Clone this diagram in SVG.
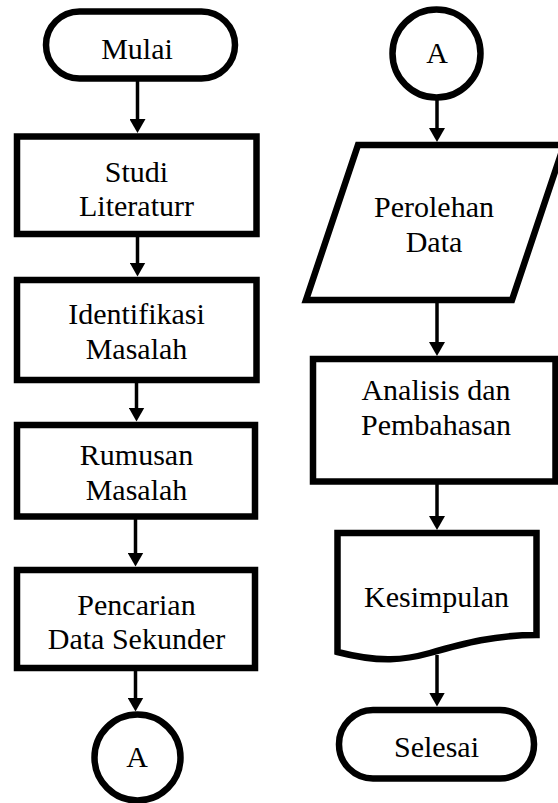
<svg xmlns="http://www.w3.org/2000/svg" width="558" height="803" viewBox="0 0 558 803">
<style>
.shape{fill:#fff;stroke:#000;stroke-width:6.5;stroke-linejoin:miter}
.lbl{font-family:'Liberation Serif','DejaVu Serif',serif;font-size:30px;fill:#000;text-anchor:middle}
.conn{stroke:#000;stroke-width:3.5;fill:none}
</style>
<defs>
<marker id="ah" markerUnits="userSpaceOnUse" viewBox="0 0 14 16" markerWidth="14" markerHeight="16" refX="4" refY="8" orient="auto">
<path d="M0,0 L14,8 L0,16 z" fill="#000"/>
</marker>
</defs>
<rect width="558" height="803" fill="#fff"/>
<g id="connectors">
<line class="conn" x1="137.5" y1="81" x2="137.5" y2="123" marker-end="url(#ah)"/>
<line class="conn" x1="137.5" y1="237" x2="137.5" y2="266.5" marker-end="url(#ah)"/>
<line class="conn" x1="136.5" y1="383" x2="136.5" y2="411.5" marker-end="url(#ah)"/>
<line class="conn" x1="135.5" y1="519" x2="135.5" y2="556.5" marker-end="url(#ah)"/>
<line class="conn" x1="135.5" y1="671" x2="135.5" y2="701.5" marker-end="url(#ah)"/>
<line class="conn" x1="437" y1="99" x2="437" y2="132" marker-end="url(#ah)"/>
<line class="conn" x1="437" y1="303" x2="437" y2="346" marker-end="url(#ah)"/>
<line class="conn" x1="437" y1="484" x2="437" y2="520" marker-end="url(#ah)"/>
<line class="conn" x1="437" y1="655" x2="437" y2="696.5" marker-end="url(#ah)"/>
</g>
<g id="mulai">
<rect class="shape" x="46" y="11.5" width="189" height="67" rx="33.5" ry="33.5"/>
<text class="lbl" x="137" y="59" font-family="Liberation Serif">Mulai</text>
</g>
<g id="studi">
<rect class="shape" x="17" y="136.5" width="239.5" height="97.5"/>
<text class="lbl" x="136.5" y="182">Studi</text>
<text class="lbl" x="136.5" y="216">Literaturr</text>
</g>
<g id="identifikasi">
<rect class="shape" x="17" y="280" width="239.5" height="100"/>
<text class="lbl" x="136.5" y="324">Identifikasi</text>
<text class="lbl" x="136.5" y="359">Masalah</text>
</g>
<g id="rumusan">
<rect class="shape" x="17" y="425" width="238" height="91.5"/>
<text class="lbl" x="136.5" y="465">Rumusan</text>
<text class="lbl" x="136.5" y="500">Masalah</text>
</g>
<g id="pencarian">
<rect class="shape" x="17" y="570" width="238" height="98"/>
<text class="lbl" x="136.5" y="615">Pencarian</text>
<text class="lbl" x="136.5" y="649">Data Sekunder</text>
</g>
<g id="connector-a-bottom">
<circle class="shape" cx="137.5" cy="757.5" r="43" stroke-width="6"/>
<text class="lbl" x="137" y="767">A</text>
</g>
<g id="connector-a-top">
<circle class="shape" cx="436.5" cy="53.5" r="44" stroke-width="6"/>
<text class="lbl" x="437" y="63">A</text>
</g>
<g id="perolehan">
<polygon class="shape" points="358,145 564,145 512,300 306,300"/>
<text class="lbl" x="434" y="217">Perolehan</text>
<text class="lbl" x="434" y="252">Data</text>
</g>
<g id="analisis">
<rect class="shape" x="313" y="359" width="242.5" height="122.5"/>
<text class="lbl" x="436" y="400">Analisis dan</text>
<text class="lbl" x="436" y="435">Pembahasan</text>
</g>
<g id="kesimpulan">
<path class="shape" d="M337.5,533 H536.5 V635 C495,635 465,643 430,653 C405,660 380,663 337.5,652 Z"/>
<text class="lbl" x="436.5" y="607">Kesimpulan</text>
</g>
<g id="selesai">
<rect class="shape" x="339" y="710" width="195" height="68.5" rx="34" ry="34"/>
<text class="lbl" x="436.5" y="757">Selesai</text>
</g>
</svg>
